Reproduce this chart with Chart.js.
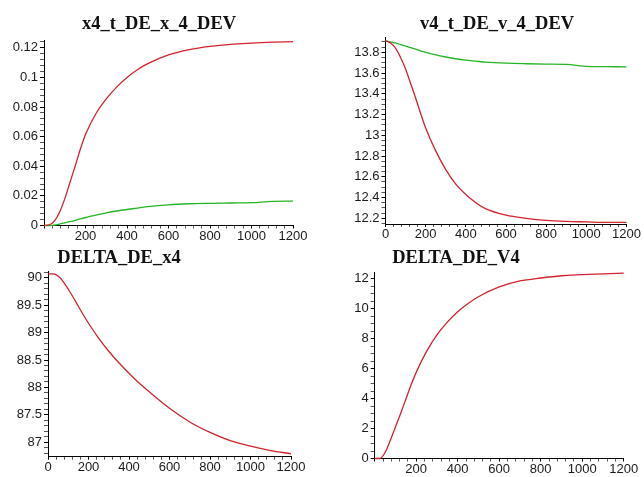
<!DOCTYPE html>
<html><head><meta charset="utf-8">
<script src="https://cdn.jsdelivr.net/npm/chart.js@4/dist/chart.umd.min.js"></script>
<style>
html,body{margin:0;padding:0;background:#fff;}
body{width:644px;height:477px;position:relative;overflow:hidden;}
.box{position:absolute;}
.ttl{position:absolute;font-family:"Liberation Serif","Times New Roman",serif;font-weight:bold;font-size:18.5px;line-height:20px;color:#111;white-space:nowrap;transform:translateX(-50%);}
</style></head>
<body>
<div class="box" style="left:0;top:0;width:322px;height:245px"><canvas id="c1"></canvas></div>
<div class="box" style="left:322px;top:0;width:322px;height:245px"><canvas id="c2"></canvas></div>
<div class="box" style="left:0;top:245px;width:322px;height:232px"><canvas id="c3"></canvas></div>
<div class="box" style="left:322px;top:245px;width:322px;height:232px"><canvas id="c4"></canvas></div>
<div class="ttl" style="left:159px;top:13px">x4_t_DE_x_4_DEV</div>
<div class="ttl" style="left:497px;top:13px">v4_t_DE_v_4_DEV</div>
<div class="ttl" style="left:119px;top:247px">DELTA_DE_x4</div>
<div class="ttl" style="left:456px;top:247px">DELTA_DE_V4</div>
<script>
// ---- data ----
const time = [0,25,50,75,100,125,150,175,200,250,300,350,400,450,500,600,700,800,900,1000,1100,1200];
const x4DevRed = [0,0.0005,0.003,0.009,0.018,0.029,0.040,0.0515,0.0615,0.0755,0.0855,0.0935,0.1,0.1052,0.1093,0.1152,0.1188,0.121,0.1224,0.1232,0.1238,0.1242];
const x4DevGreen = [0,0,0.0003,0.001,0.0018,0.0026,0.0035,0.0045,0.0054,0.007,0.0085,0.0098,0.0108,0.0118,0.0127,0.014,0.0147,0.015,0.0152,0.0154,0.0163,0.0165];
const v4DevRed = [13.91,13.89,13.84,13.75,13.64,13.5,13.36,13.21,13.07,12.85,12.67,12.53,12.43,12.35,12.29,12.23,12.2,12.18,12.17,12.165,12.16,12.16];
const v4DevGreen = [13.91,13.9,13.89,13.875,13.86,13.845,13.83,13.815,13.8,13.775,13.755,13.738,13.725,13.715,13.705,13.695,13.69,13.687,13.684,13.665,13.662,13.66];
const deltaX4 = [90.07,90.07,90.03,89.93,89.79,89.64,89.48,89.32,89.17,88.9,88.66,88.45,88.26,88.08,87.92,87.62,87.37,87.18,87.03,86.93,86.85,86.79];
const deltaV4 = [0,0,0.4,1.2,2.1,3.0,3.95,4.9,5.75,7.15,8.25,9.1,9.8,10.35,10.8,11.45,11.85,12.05,12.2,12.27,12.33,12.38];

// tick labels
const xTicksAll = [0,200,400,600,800,1000,1200];
const xTicksNoZero = [200,400,600,800,1000,1200];
const yTicks1 = [0,0.02,0.04,0.06,0.08,0.1,0.12];
const yTicks2 = [12.2,12.4,12.6,12.8,13,13.2,13.4,13.6,13.8];
const yTicks3 = [87,87.5,88,88.5,89,89.5,90];
const yTicks4 = [0,2,4,6,8,10,12];

const RED = '#d2232e', GREEN = '#25b525';

function pts(ys){ return time.map((t,i)=>({x:t,y:ys[i]})); }
function findIn(list,v){ return list.find(m=>Math.abs(m-v)<1e-6*Math.max(1,Math.abs(m))); }
function lbl(list,v){ const m=findIn(list,v); return m===undefined?'':String(m); }

function makeChart(id, o){
  const ds = o.series.map(s=>({data:pts(s.data),borderColor:s.color,borderWidth:1.3,pointRadius:0,
    cubicInterpolationMode:'monotone',fill:false,clip:false}));
  const font = {family:'"Liberation Sans", Arial, sans-serif', size:13};
  return new Chart(document.getElementById(id), {
    type:'line',
    data:{datasets:ds},
    options:{
      responsive:true, maintainAspectRatio:false, animation:false,
      layout:{padding:{top:o.padTop,right:o.padRight,left:0,bottom:0}},
      plugins:{legend:{display:false},tooltip:{enabled:false}},
      scales:{
        x:{type:'linear',min:0,max:o.xMax,
          ticks:{stepSize:40,autoSkip:false,includeBounds:false,maxRotation:0,font,color:'#1a1a1a',padding:o.xPad,
            callback:(v)=>lbl(o.xLabels,v)},
          grid:{drawOnChartArea:false,drawTicks:true,tickLength:3,
            tickColor:(c)=>findIn(xTicksAll,c.tick.value)!==undefined?'#000':'#555'},
          border:{display:true,color:'#000',width:1},
          afterFit:(s)=>{s.height=o.xHeight;s.paddingLeft=0;s.paddingRight=0;}
        },
        y:{type:'linear',min:o.yMin,max:o.yMax,
          ticks:{stepSize:o.yStep,autoSkip:false,includeBounds:false,font,color:'#1a1a1a',padding:2,
            callback:(v)=>lbl(o.yLabels,v)},
          grid:{drawOnChartArea:false,drawTicks:true,tickLength:4,
            tickColor:(c)=>findIn(o.yLabels,c.tick.value)!==undefined?'#000':'#555'},
          border:{display:true,color:'#000',width:1},
          afterFit:(s)=>{s.width=o.yWidth;s.paddingTop=0;s.paddingBottom=0;}
        }
      }
    }
  });
}

makeChart('c1',{series:[{data:x4DevRed,color:RED},{data:x4DevGreen,color:GREEN}],
  yMin:0,yMax:0.1253,yStep:0.004,yLabels:yTicks1,xLabels:xTicksNoZero,xMax:1200,
  yWidth:44,xHeight:19.5,padTop:40,padRight:29,xPad:0});
makeChart('c2',{series:[{data:v4DevRed,color:RED},{data:v4DevGreen,color:GREEN}],
  yMin:12.145,yMax:13.94,yStep:0.05,yLabels:yTicks2,xLabels:xTicksAll,xMax:1200,
  yWidth:63.5,xHeight:21,padTop:37.8,padRight:17.5,xPad:0});
makeChart('c3',{series:[{data:deltaX4,color:RED}],
  yMin:86.7375,yMax:90.11,yStep:0.1,yLabels:yTicks3,xLabels:xTicksAll,xMax:1200,
  yWidth:48,xHeight:20.3,padTop:26.7,padRight:31,xPad:0});
makeChart('c4',{series:[{data:deltaV4,color:RED}],
  yMin:0,yMax:12.45,yStep:0.5,yLabels:yTicks4,xLabels:xTicksNoZero,xMax:1200,
  yWidth:52.7,xHeight:18.5,padTop:27,padRight:20.3,xPad:0});
</script>
</body></html>
